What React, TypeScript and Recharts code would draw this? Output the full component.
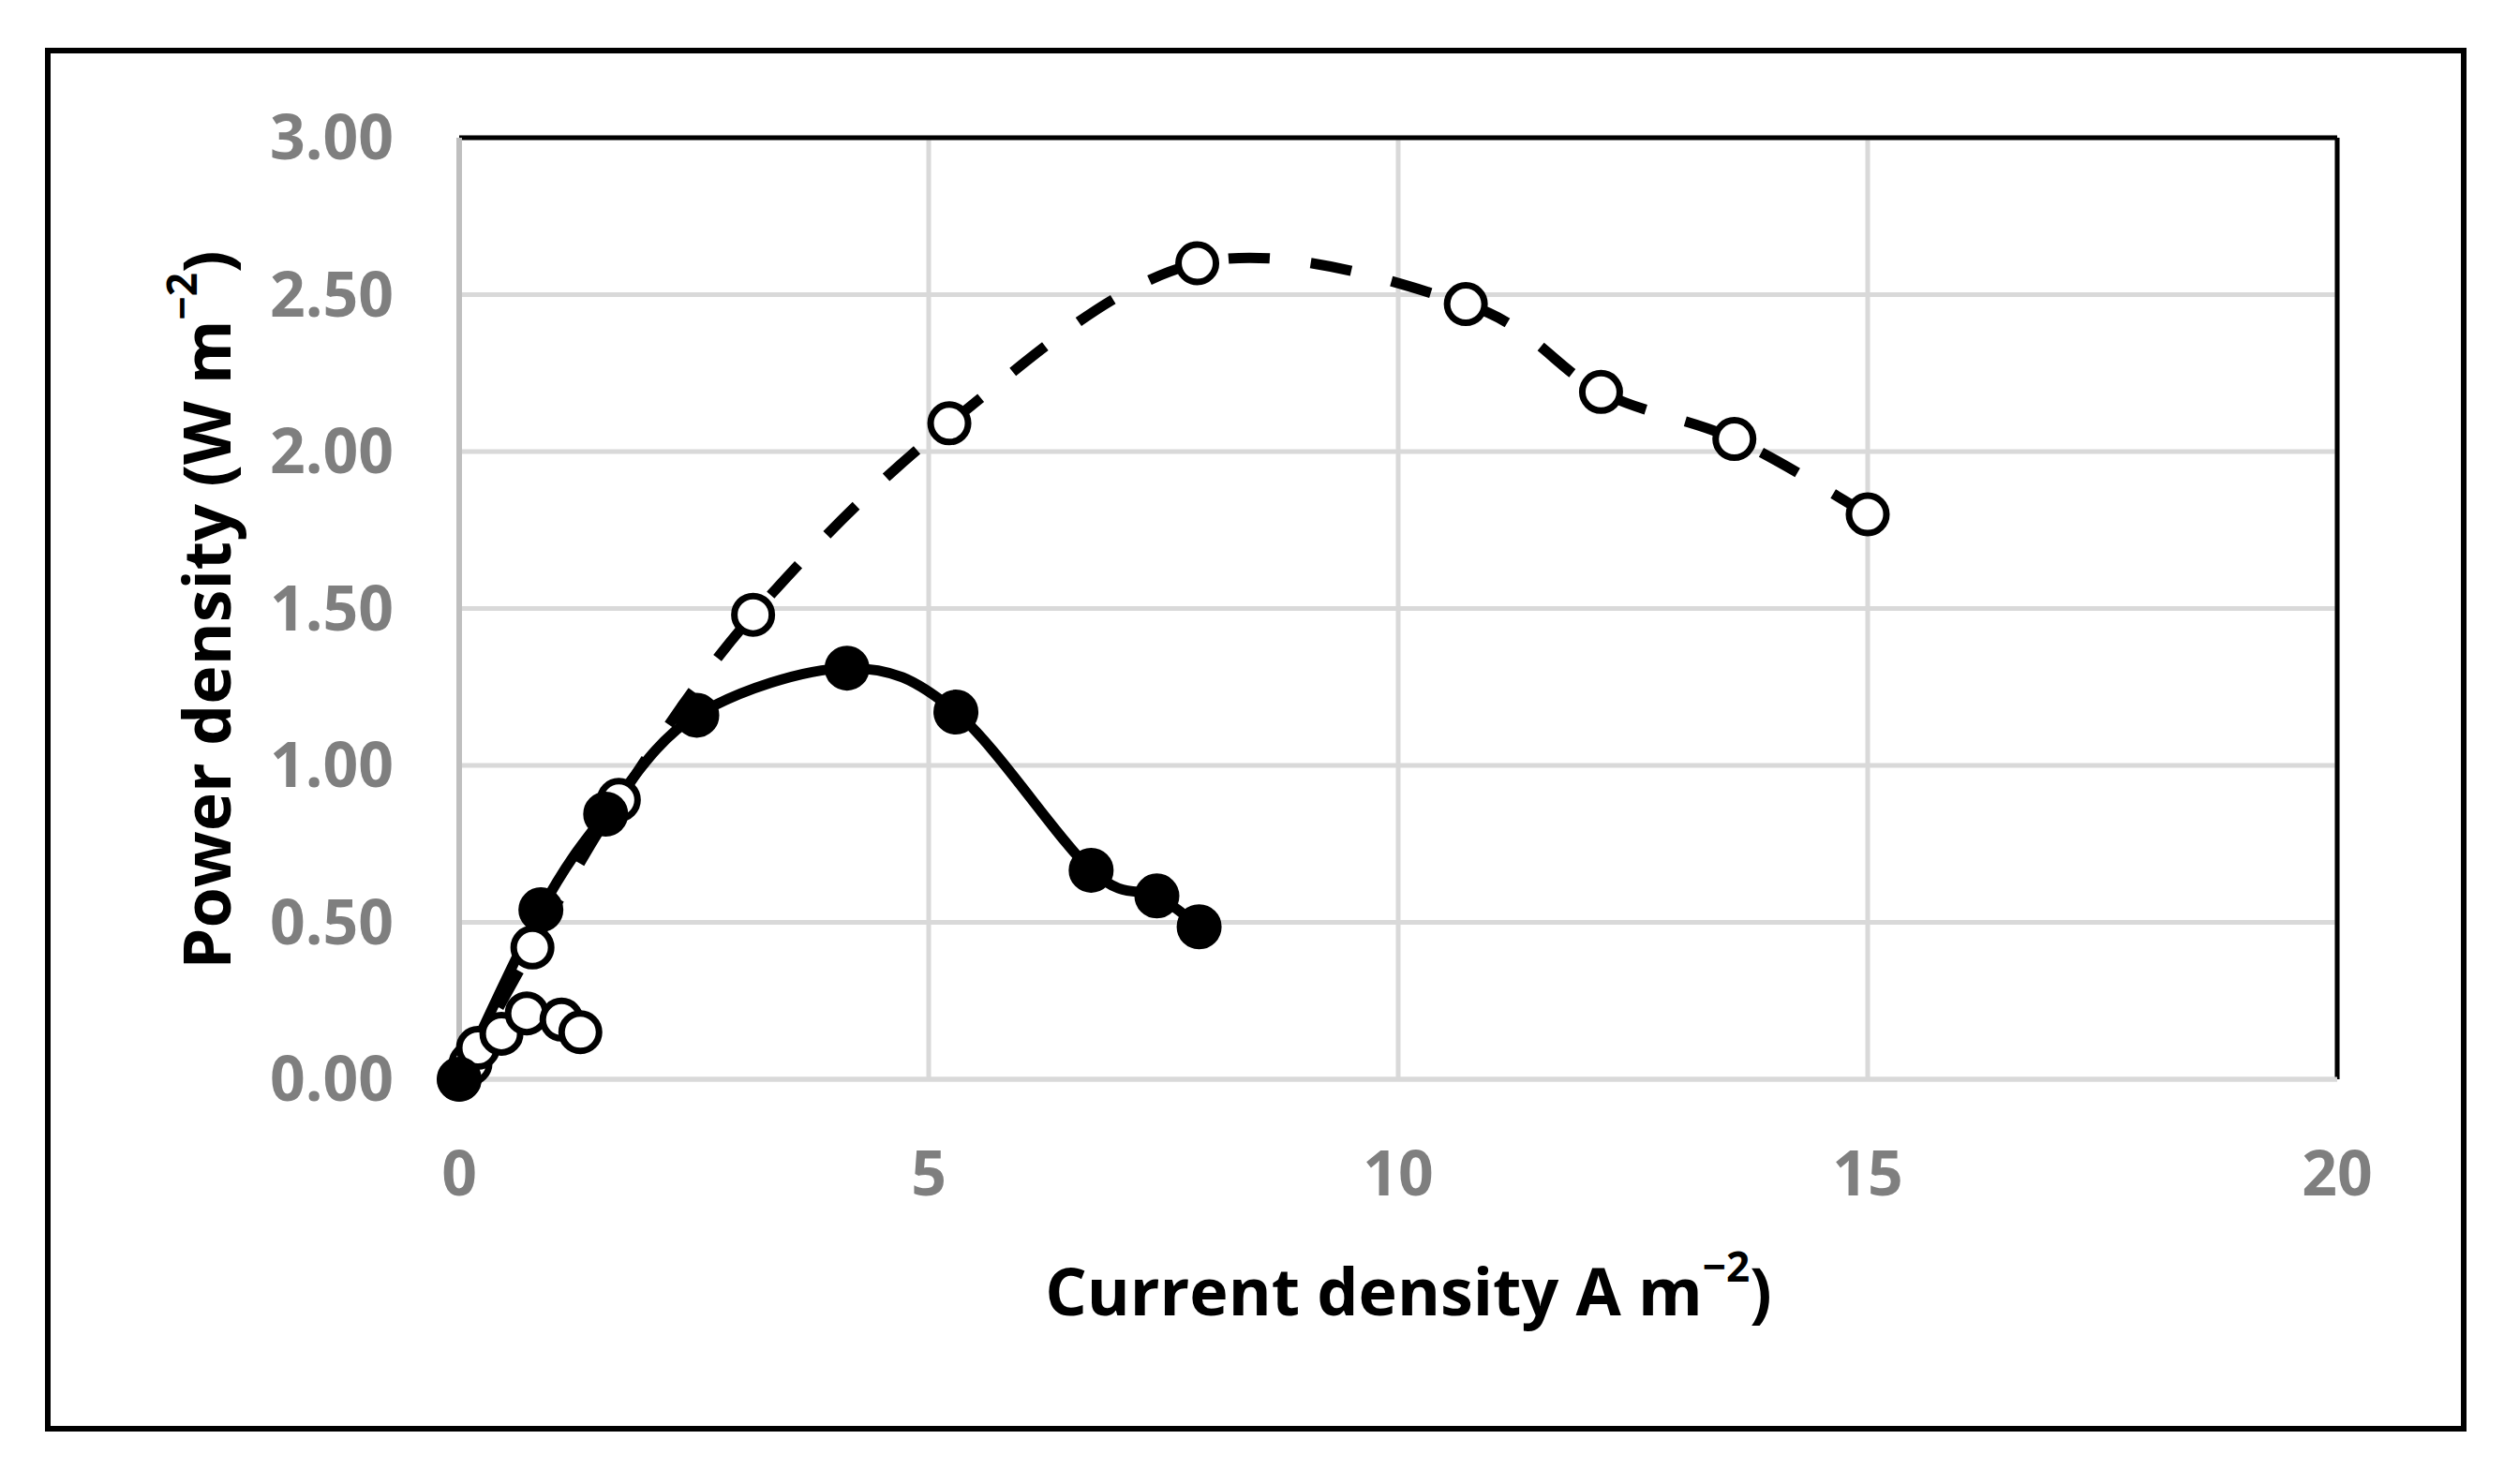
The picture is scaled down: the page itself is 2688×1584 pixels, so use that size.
import React from 'react';
import {
    LineChart,
    Line,
    XAxis,
    YAxis,
    CartesianGrid,
    ReferenceLine,
    Label,
} from 'recharts';

// open circles, dashed curve
const openX = [0, 0.78, 1.7, 3.13, 5.22, 7.86, 10.72, 12.16, 13.58, 15.0];
const openY = [0, 0.42, 0.89, 1.48, 2.09, 2.6, 2.47, 2.19, 2.04, 1.8];

// filled circles, solid curve
const filledX = [0, 0.87, 1.56, 2.53, 4.13, 5.29, 6.73, 7.43, 7.88];
const filledY = [0, 0.54, 0.845, 1.16, 1.31, 1.17, 0.666, 0.584, 0.486];

// small open circles near the origin (markers only)
const smallX = [0, 0.12, 0.2, 0.45, 0.72, 1.09, 1.29];
const smallY = [0, 0.05, 0.1, 0.145, 0.21, 0.19, 0.15];

const xTicks = [0, 5, 10, 15, 20];
const yTicks = [0, 0.5, 1, 1.5, 2, 2.5, 3];

const toRows = (xs: number[], ys: number[]) => xs.map((x, i) => ({ x, y: ys[i] }));
const openData = toRows(openX, openY);
const filledData = toRows(filledX, filledY);
const smallData = toRows(smallX, smallY);

const FONT = '"Open Sans", "DejaVu Sans", sans-serif';

// Catmull-Rom style smoothing, close to Excel's "smoothed line"
const smoothCurve = (context: any) => {
    let pts: number[][] = [];
    return {
        areaStart() {},
        areaEnd() {},
        lineStart() {
            pts = [];
        },
        point(x: number, y: number) {
            pts.push([+x, +y]);
        },
        lineEnd() {
            if (!pts.length) return;
            context.moveTo(pts[0][0], pts[0][1]);
            for (let i = 0; i < pts.length - 1; i++) {
                const p0 = pts[i - 1] || pts[i];
                const p1 = pts[i];
                const p2 = pts[i + 1];
                const p3 = pts[i + 2] || p2;
                context.bezierCurveTo(
                    p1[0] + (p2[0] - p0[0]) / 6,
                    p1[1] + (p2[1] - p0[1]) / 6,
                    p2[0] - (p3[0] - p1[0]) / 6,
                    p2[1] - (p3[1] - p1[1]) / 6,
                    p2[0],
                    p2[1],
                );
            }
        },
    };
};

const XTitle = () => (
    <text x={1503} y={1377} textAnchor="middle" dominantBaseline="central"
        fontFamily={FONT} fontWeight={700} fontSize={70} fill="#000">
        Current density A m<tspan fontSize={44} dy={-26}>−2</tspan><tspan dy={26}>)</tspan>
    </text>
);

const YTitle = () => (
    <text x={0} y={0} transform="translate(219,651) rotate(-90)" textAnchor="middle"
        dominantBaseline="central" fontFamily={FONT} fontWeight={700} fontSize={70} fill="#000">
        Power density (W m<tspan fontSize={44} dy={-26}>−2</tspan><tspan dy={26}>)</tspan>
    </text>
);

export default function App() {
    return (
        <div style={{ position: 'absolute', left: 0, top: 0, width: 2688, height: 1584, background: '#fff' }}>
            {/* outer frame */}
            <div style={{
                position: 'absolute', left: 48, top: 51, width: 2572, height: 1465,
                border: '6px solid #000',
            }} />
            <LineChart
                width={2688}
                height={1584}
                margin={{ top: 147, right: 194, bottom: 132, left: 190 }}
                style={{ position: 'absolute', left: 0, top: 0 }}
            >
                <CartesianGrid stroke="#d9d9d9" strokeWidth={5} horizontalValues={yTicks} verticalValues={xTicks} />
                <XAxis
                    type="number"
                    dataKey="x"
                    domain={[0, 20]}
                    ticks={xTicks}
                    height={300}
                    axisLine={{ stroke: '#d9d9d9', strokeWidth: 5 }}
                    tickLine={false}
                    tickSize={0}
                    tickMargin={77}
                    tick={{ fill: '#7f7f7f', fontSize: 66, fontWeight: 700, fontFamily: FONT }}
                >
                    <Label content={<XTitle />} />
                </XAxis>
                <YAxis
                    type="number"
                    dataKey="y"
                    domain={[0, 3]}
                    ticks={yTicks}
                    width={300}
                    axisLine={{ stroke: '#bfbfbf', strokeWidth: 6 }}
                    tickLine={false}
                    tickSize={0}
                    tickMargin={70}
                    tickFormatter={(v: number) => v.toFixed(2)}
                    tick={{ fill: '#7f7f7f', fontSize: 66, fontWeight: 700, fontFamily: FONT }}
                >
                    <Label content={<YTitle />} />
                </YAxis>
                <ReferenceLine y={3} stroke="#000" strokeWidth={5} />
                <ReferenceLine x={20} stroke="#000" strokeWidth={5} />

                <Line
                    data={smallData}
                    dataKey="y"
                    stroke="none"
                    isAnimationActive={false}
                    dot={{ r: 20, fill: '#fff', stroke: '#000', strokeWidth: 7 }}
                />
                <Line
                    data={openData}
                    dataKey="y"
                    type={smoothCurve as any}
                    stroke="#000"
                    strokeWidth={11}
                    strokeDasharray="44 44"
                    isAnimationActive={false}
                    dot={{ r: 20, fill: '#fff', stroke: '#000', strokeWidth: 7, strokeDasharray: 'none' }}
                />
                <Line
                    data={filledData}
                    dataKey="y"
                    type={smoothCurve as any}
                    stroke="#000"
                    strokeWidth={11}
                    isAnimationActive={false}
                    dot={{ r: 23, fill: '#000', stroke: '#000', strokeWidth: 2 }}
                />
            </LineChart>
        </div>
    );
}
